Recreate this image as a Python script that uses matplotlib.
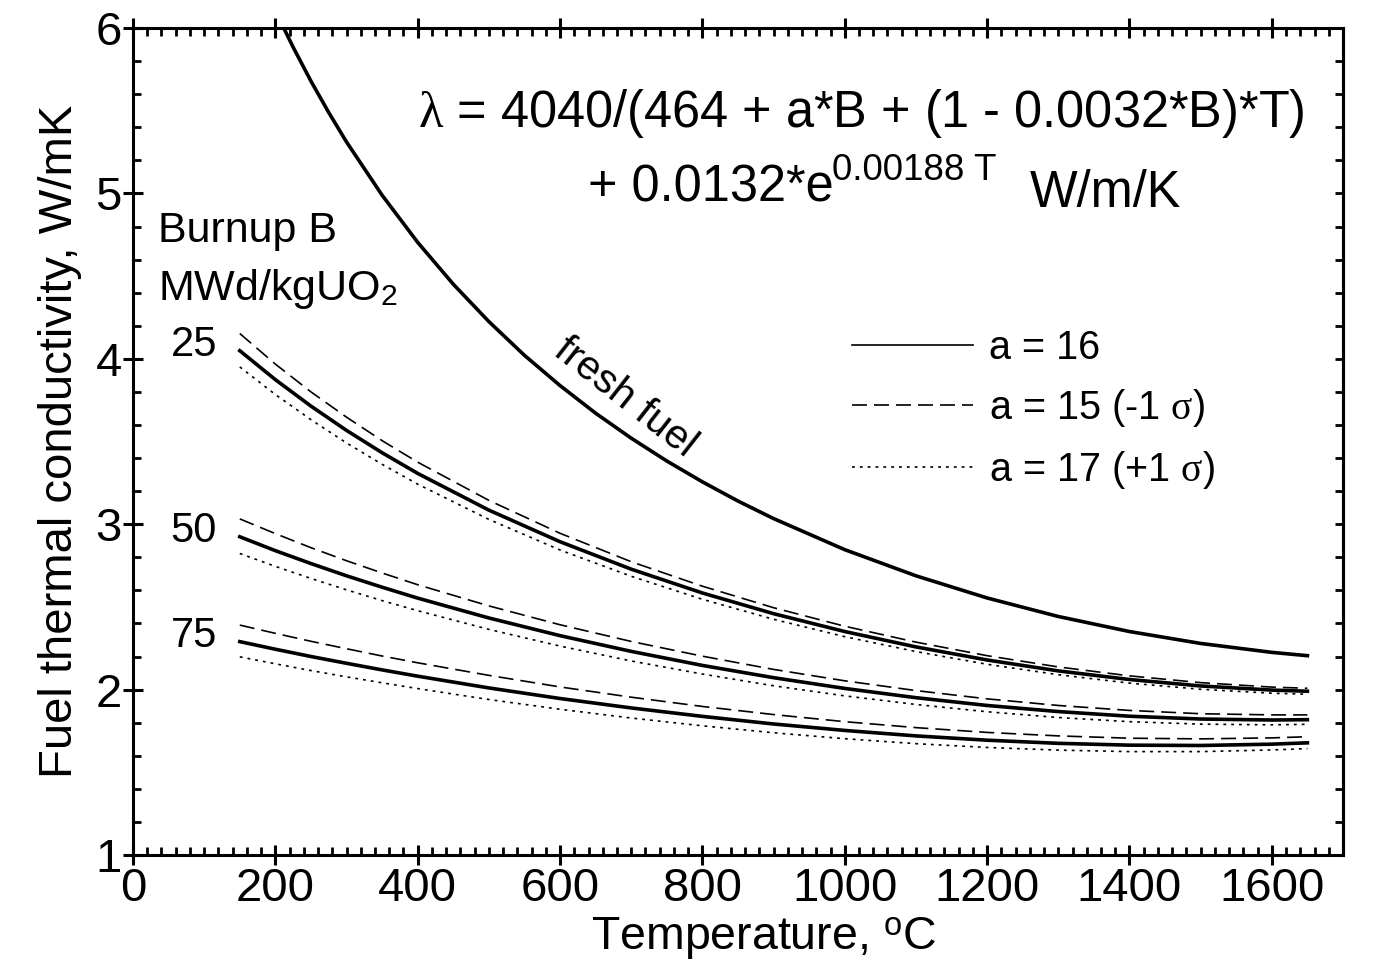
import numpy as np
import matplotlib
matplotlib.use("Agg")
import matplotlib.pyplot as plt
from matplotlib.lines import Line2D
from matplotlib.ticker import MultipleLocator

plt.rcParams['font.family'] = ['Liberation Sans', 'DejaVu Sans']
plt.rcParams['mathtext.fontset'] = 'custom'
plt.rcParams['mathtext.rm'] = 'Liberation Sans'
plt.rcParams['mathtext.it'] = 'Liberation Serif'
plt.rcParams['mathtext.bf'] = 'Liberation Sans:bold'

# fresh fuel (B = 0)
temp_fresh = [200, 225, 250, 275, 300, 350, 400, 450, 500, 550, 600, 650, 700, 750,
              800, 850, 900, 1000, 1100, 1200, 1300, 1400, 1500, 1600, 1650]
k_fresh = [6.104, 5.884, 5.679, 5.489, 5.311, 4.989, 4.704, 4.451, 4.225, 4.021,
           3.838, 3.671, 3.520, 3.382, 3.256, 3.140, 3.034, 2.846, 2.688, 2.554,
           2.442, 2.351, 2.279, 2.225, 2.205]

# burnup curves, temperature in degC
temp = [150, 200, 250, 300, 350, 400, 500, 600, 700, 800, 900, 1000, 1100, 1200,
        1300, 1400, 1500, 1600, 1650]

k25_a16 = [4.049, 3.874, 3.714, 3.567, 3.432, 3.307, 3.085, 2.894, 2.728, 2.584,
           2.459, 2.351, 2.258, 2.179, 2.113, 2.061, 2.022, 1.997, 1.990]
k25_a15 = [4.153, 3.968, 3.800, 3.647, 3.505, 3.375, 3.144, 2.945, 2.773, 2.625,
           2.495, 2.383, 2.287, 2.205, 2.137, 2.083, 2.042, 2.015, 2.008]
k25_a17 = [3.951, 3.784, 3.632, 3.491, 3.362, 3.242, 3.029, 2.844, 2.685, 2.546,
           2.425, 2.320, 2.230, 2.153, 2.090, 2.039, 2.002, 1.978, 1.972]

k50_a16 = [2.924, 2.840, 2.762, 2.688, 2.619, 2.553, 2.433, 2.326, 2.231, 2.146,
           2.072, 2.007, 1.951, 1.904, 1.867, 1.839, 1.822, 1.816, 1.818]
k50_a15 = [3.032, 2.943, 2.858, 2.779, 2.705, 2.634, 2.506, 2.392, 2.291, 2.202,
           2.122, 2.053, 1.994, 1.944, 1.904, 1.874, 1.854, 1.847, 1.847]
k50_a17 = [2.823, 2.745, 2.672, 2.603, 2.538, 2.477, 2.364, 2.263, 2.173, 2.094,
           2.023, 1.962, 1.910, 1.866, 1.831, 1.806, 1.791, 1.787, 1.790]

k75_a16 = [2.290, 2.244, 2.200, 2.159, 2.119, 2.081, 2.010, 1.946, 1.889, 1.838,
           1.792, 1.753, 1.720, 1.694, 1.675, 1.664, 1.662, 1.670, 1.678]
k75_a15 = [2.390, 2.340, 2.292, 2.247, 2.203, 2.162, 2.086, 2.016, 1.954, 1.898,
           1.849, 1.806, 1.770, 1.741, 1.720, 1.706, 1.702, 1.708, 1.715]
k75_a17 = [2.198, 2.156, 2.115, 2.077, 2.041, 2.006, 1.940, 1.881, 1.828, 1.781,
           1.739, 1.703, 1.673, 1.650, 1.634, 1.625, 1.625, 1.635, 1.643]

burnups = ['25', '50', '75']
curves_a16 = [k25_a16, k50_a16, k75_a16]
curves_a15 = [k25_a15, k50_a15, k75_a15]
curves_a17 = [k25_a17, k50_a17, k75_a17]
legend_labels = ['a = 16', r'a = 15 (-1 $\sigma$)', r'a = 17 (+1 $\sigma$)']

dash_style = (0, (9, 4.2))
dot_style = (0, (1.7, 3.0))

fig = plt.figure(figsize=(13.77, 9.77), dpi=100)
ax = fig.add_axes([0.0966, 0.1249, 0.8787, 0.8464])

ax.plot(temp_fresh, k_fresh, color='black', lw=2.6)
for k16, k15, k17 in zip(curves_a16, curves_a15, curves_a17):
    ax.plot(temp, k16, color='black', lw=2.6)
    ax.plot(temp, k15, color='black', lw=1.2, ls=dash_style)
    ax.plot(temp, k17, color='black', lw=1.2, ls=dot_style)

# burnup labels at left end of curves
for name, k16 in zip(burnups, curves_a16):
    ax.text(temp[0] - 32, k16[0] - 0.03, name, fontsize=30, ha='right', va='baseline')

ax.text(692, 3.77, 'fresh fuel', fontsize=29.5, rotation=-38, rotation_mode='anchor',
        ha='center', va='center')

fig.text(158 / 1377, 1 - 242 / 977, 'Burnup B', fontsize=31, va='baseline')
fig.text(158 / 1377, 1 - 300 / 977, r'MWd/kgUO$_2$', fontsize=31, va='baseline')

fig.text(418 / 1377, 1 - 127 / 977, r'$\lambda$ = 4040/(464 + a*B + (1 - 0.0032*B)*T)',
         fontsize=36.4, va='baseline')
fig.text(588 / 1377, 1 - 202 / 977, '+ 0.0132*e', fontsize=36.4, va='baseline')
fig.text(832 / 1377, 1 - 180 / 977, '0.00188 T', fontsize=26.5, va='baseline')
fig.text(1030 / 1377, 1 - 207 / 977, 'W/m/K', fontsize=36.4, va='baseline')

handles = [Line2D([], [], color='black', lw=1.2),
           Line2D([], [], color='black', lw=1.2, ls=dash_style),
           Line2D([], [], color='black', lw=1.2, ls=dot_style)]
ax.legend(handles, legend_labels, loc='upper left', bbox_to_anchor=(852 / 1377, 1 - 329 / 977),
          bbox_transform=fig.transFigure, frameon=False, fontsize=28.5, borderpad=0,
          borderaxespad=0, handlelength=3.05, handletextpad=0.4, labelspacing=0.5)

ax.set_xlim(0, 1700)
ax.set_ylim(1, 6)
ax.xaxis.set_major_locator(MultipleLocator(200))
ax.xaxis.set_minor_locator(MultipleLocator(20))
ax.yaxis.set_major_locator(MultipleLocator(1))
ax.yaxis.set_minor_locator(MultipleLocator(0.2))

ax.tick_params(axis='x', which='major', direction='inout', length=14, width=2.2,
               top=True, labelsize=34, pad=2)
ax.tick_params(axis='x', which='minor', direction='in', length=6, width=2, top=True)
ax.tick_params(axis='y', which='major', direction='inout', length=14, width=2.2,
               right=False, labelsize=34, pad=1)
ax.tick_params(axis='y', which='minor', direction='in', length=6, width=2, right=False)

sec = ax.secondary_yaxis('right')
sec.yaxis.set_major_locator(MultipleLocator(0.2))
sec.tick_params(direction='in', length=6, width=2, labelright=False)
sec.spines['right'].set_linewidth(2.2)

for s in ax.spines.values():
    s.set_linewidth(2.2)

ax.set_xlabel(r'Temperature, $^{\mathrm{o}}$C', fontsize=33.5)
ax.xaxis.set_label_coords(0.521, -0.115)
ax.xaxis.label.set_va('baseline')
ax.set_ylabel('Fuel thermal conductivity, W/mK', fontsize=34, labelpad=10)

fig.savefig('out.png', dpi=100)
